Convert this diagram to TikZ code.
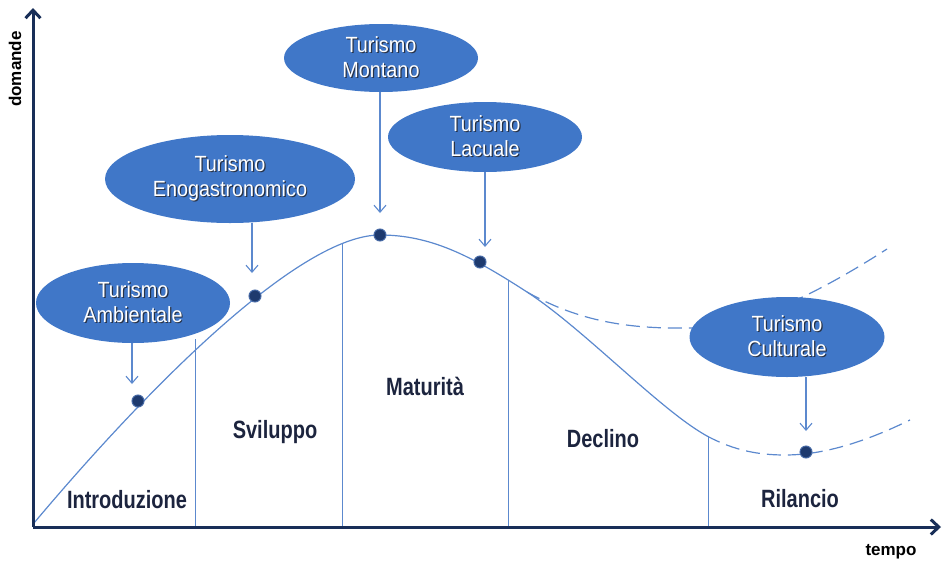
\documentclass[tikz,border=0pt]{standalone}
\usepackage{fontspec}
\setmainfont{Liberation Sans}
\newfontfamily\bubblefont[FakeStretch=0.9]{Liberation Sans}
\newfontfamily\phasefont[FakeStretch=0.8]{Liberation Sans Bold}
\newfontfamily\axisfont{Liberation Sans Bold}
\usetikzlibrary{arrows.meta,shapes.geometric}

\definecolor{bubble}{RGB}{64,119,200}
\definecolor{curveblue}{RGB}{92,137,206}
\definecolor{axisnavy}{RGB}{24,46,88}
\definecolor{dotnavy}{RGB}{30,58,110}
\definecolor{dotrim}{RGB}{70,105,165}
\definecolor{labelnavy}{RGB}{28,36,62}
\definecolor{textshade}{RGB}{40,50,70}

% white text with a small dark drop shadow
\newcommand{\shtext}[1]{\leavevmode\rlap{\kern1.2pt\raisebox{-1.2pt}{\textcolor{textshade}{#1}}}#1}

\begin{document}
\begin{tikzpicture}[x=1pt,y=-1pt,
  bubble/.style={ellipse, fill=bubble, inner sep=0pt, text=white, align=center,
                 font=\bubblefont\fontsize{22}{25}\selectfont},
  phase/.style={anchor=base, text=labelnavy, font=\phasefont\fontsize{25}{28}\selectfont},
  curve/.style={draw=curveblue, line width=1.2pt},
  dashcurve/.style={curve, dash pattern=on 14pt off 7pt},
  divider/.style={draw=curveblue, line width=1pt},
  pointer/.style={draw=curveblue, line width=1.1pt, -{Straight Barb[length=7pt,width=12pt]}},
  dot/.style={circle, fill=dotnavy, draw=dotrim, line width=1pt, minimum size=12pt, inner sep=0pt},
  axis/.style={draw=axisnavy, line width=3pt, -{Straight Barb[length=8pt,width=15pt]}},
  axislabel/.style={text=black, font=\axisfont\fontsize{17}{19}\selectfont}
]
\useasboundingbox (0,0) rectangle (943,563);

% axes
\coordinate (O) at (33,527);
\coordinate (yend) at (33,8);
\coordinate (xend) at (941,527);

% life-cycle curve
\coordinate (start) at (34,523);
\coordinate (split) at (527,292);
\coordinate (relaunch) at (707,436);
\draw[curve] (start) .. controls (150,385) and (300,235) .. (380,235)
  .. controls (430,235) and (470,255) .. (split)
  .. controls (584,329) and (660,410) .. (relaunch);
\draw[dashcurve] (relaunch) .. controls (735,451) and (760,455) .. (785,455)
  .. controls (830,455) and (875,437) .. (910,420);
\draw[dashcurve] (split) .. controls (580,322) and (630,329) .. (690,328)
  .. controls (740,327) and (800,305) .. (887,249);

% phase dividers
\coordinate (t1) at (195,339);  \coordinate (b1) at (195,527);
\coordinate (t2) at (342,243);  \coordinate (b2) at (342,527);
\coordinate (t3) at (508,280);  \coordinate (b3) at (508,527);
\coordinate (t4) at (708,436);  \coordinate (b4) at (708,527);
\draw[divider] (t1) -- (b1);
\draw[divider] (t2) -- (b2);
\draw[divider] (t3) -- (b3);
\draw[divider] (t4) -- (b4);

\draw[axis] (O) -- (yend);
\draw[axis] (O) -- (xend);
\node[axislabel, rotate=90] (ylab) at (15,69) {domande};
\node[axislabel] (xlab) at (891,552) {tempo};

% phase names
\node[phase] (intro) at (127,508) {Introduzione};
\node[phase] (svil) at (275,438) {Sviluppo};
\node[phase] (matur) at (425,395) {Maturità};
\node[phase] (decl) at (603,447) {Declino};
\node[phase] (rilan) at (800,507) {Rilancio};

% tourism types
\node[bubble, minimum width=194pt, minimum height=80pt] (amb) at (133,303)
  {\shtext{Turismo}\\\shtext{Ambientale}};
\node[bubble, minimum width=250pt, minimum height=88pt] (eno) at (230,179)
  {\shtext{Turismo}\\\shtext{Enogastronomico}};
\node[bubble, minimum width=194pt, minimum height=68pt] (mon) at (381,58)
  {\shtext{Turismo}\\\shtext{Montano}};
\node[bubble, minimum width=194pt, minimum height=70pt] (lac) at (485,137)
  {\shtext{Turismo}\\\shtext{Lacuale}};
\node[bubble, minimum width=195pt, minimum height=80pt] (cul) at (787,337)
  {\shtext{Turismo}\\\shtext{Culturale}};

% points on the curve
\node[dot] (dA) at (138,401) {};
\node[dot] (dE) at (255,296) {};
\node[dot] (dM) at (380,235) {};
\node[dot] (dL) at (480,262) {};
\node[dot] (dC) at (806,452) {};

% pointers
\coordinate (pA) at (132,384);
\coordinate (pE) at (252,273);
\coordinate (pM) at (380,213);
\coordinate (pL) at (485,247);
\coordinate (pC) at (806,431);
\draw[pointer] (amb.south -| pA) -- (pA);
\draw[pointer] (eno.south -| pE) -- (pE);
\draw[pointer] (mon.south -| pM) -- (pM);
\draw[pointer] (lac.south -| pL) -- (pL);
\draw[pointer] (cul.south -| pC) -- (pC);
\end{tikzpicture}
\end{document}
